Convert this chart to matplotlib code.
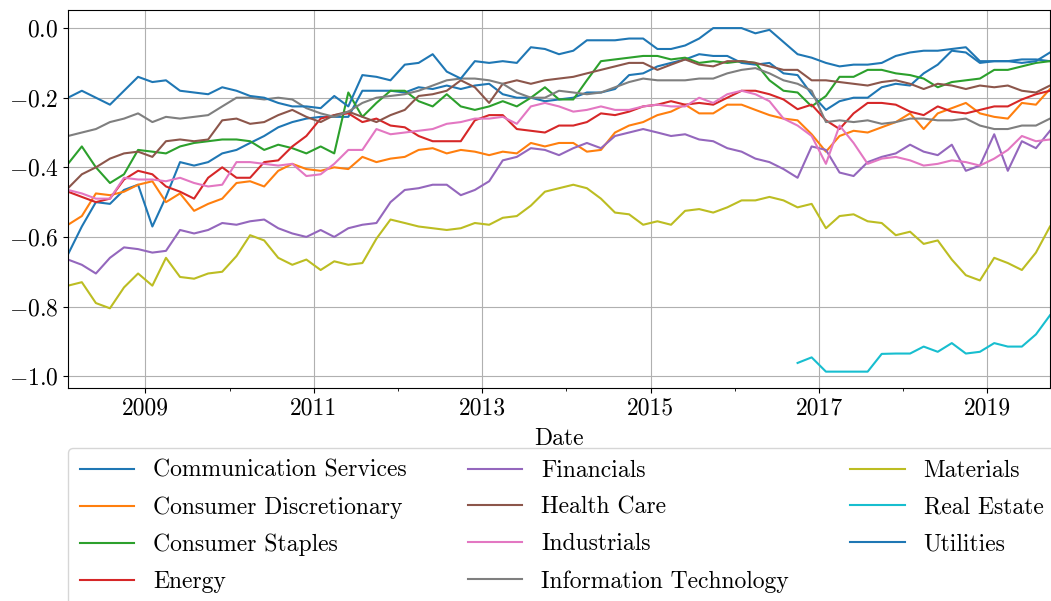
import numpy as np
import pandas as pd
import matplotlib
matplotlib.use("Agg")
import matplotlib.pyplot as plt
import matplotlib.dates as mdates

# drawdown per sector, sampled every second month (Jan 2008 .. Sep 2019)
dates = pd.date_range("2008-01-31", periods=71, freq="2ME")

communication_services = [
    -0.65, -0.57, -0.50, -0.505, -0.465, -0.45, -0.57, -0.485, -0.385, -0.395, -0.385, -0.36,
    -0.35, -0.33, -0.31, -0.285, -0.27, -0.26, -0.255, -0.255, -0.255, -0.18, -0.18, -0.18,
    -0.185, -0.17, -0.175, -0.165, -0.175, -0.165, -0.16, -0.19, -0.20, -0.20, -0.21, -0.205,
    -0.20, -0.185, -0.185, -0.175, -0.135, -0.13, -0.11, -0.10, -0.09, -0.075, -0.08, -0.08,
    -0.10, -0.105, -0.10, -0.13, -0.135, -0.19, -0.235, -0.21, -0.20, -0.20, -0.17,
    -0.16, -0.165, -0.13, -0.105, -0.065, -0.07, -0.10, -0.095, -0.095, -0.09, -0.09, -0.095]
consumer_discretionary = [
    -0.565, -0.54, -0.475, -0.48, -0.47, -0.45, -0.44, -0.50, -0.475, -0.525, -0.505, -0.49,
    -0.445, -0.44, -0.455, -0.41, -0.39, -0.405, -0.41, -0.40, -0.405, -0.37, -0.385, -0.375,
    -0.37, -0.35, -0.345, -0.36, -0.35, -0.355, -0.365, -0.355, -0.36, -0.33, -0.34, -0.33,
    -0.33, -0.355, -0.35, -0.30, -0.28, -0.27, -0.25, -0.24, -0.22, -0.245, -0.245, -0.22,
    -0.22, -0.235, -0.25, -0.26, -0.265, -0.305, -0.355, -0.31, -0.295, -0.30, -0.285,
    -0.27, -0.245, -0.29, -0.245, -0.23, -0.215, -0.245, -0.255, -0.26, -0.215, -0.22, -0.175]
consumer_staples = [
    -0.39, -0.34, -0.40, -0.445, -0.42, -0.35, -0.355, -0.36, -0.34, -0.33, -0.325, -0.32,
    -0.32, -0.325, -0.35, -0.335, -0.345, -0.36, -0.34, -0.36, -0.185, -0.255, -0.215, -0.18,
    -0.18, -0.21, -0.225, -0.19, -0.225, -0.235, -0.225, -0.21, -0.225, -0.20, -0.17, -0.205,
    -0.205, -0.15, -0.095, -0.09, -0.085, -0.08, -0.08, -0.09, -0.085, -0.10, -0.095, -0.10,
    -0.095, -0.10, -0.15, -0.18, -0.185, -0.225, -0.195, -0.14, -0.14, -0.12, -0.12,
    -0.13, -0.135, -0.145, -0.17, -0.155, -0.15, -0.145, -0.12, -0.12, -0.11, -0.10, -0.095]
energy = [
    -0.47, -0.485, -0.50, -0.49, -0.435, -0.41, -0.42, -0.455, -0.47, -0.49, -0.43, -0.40,
    -0.43, -0.43, -0.385, -0.38, -0.34, -0.31, -0.26, -0.25, -0.245, -0.27, -0.26, -0.28,
    -0.285, -0.31, -0.325, -0.325, -0.325, -0.265, -0.25, -0.25, -0.29, -0.295, -0.30, -0.28,
    -0.28, -0.27, -0.245, -0.25, -0.24, -0.225, -0.22, -0.21, -0.22, -0.215, -0.22, -0.20,
    -0.18, -0.18, -0.19, -0.205, -0.233, -0.22, -0.265, -0.29, -0.245, -0.215, -0.215,
    -0.22, -0.24, -0.25, -0.225, -0.24, -0.245, -0.235, -0.225, -0.225, -0.205, -0.19, -0.18]
financials = [
    -0.665, -0.68, -0.705, -0.66, -0.63, -0.635, -0.645, -0.64, -0.58, -0.59, -0.58, -0.56,
    -0.565, -0.555, -0.55, -0.575, -0.59, -0.60, -0.58, -0.60, -0.575, -0.565, -0.56, -0.50,
    -0.465, -0.46, -0.45, -0.45, -0.48, -0.465, -0.44, -0.38, -0.37, -0.345, -0.35, -0.365,
    -0.345, -0.33, -0.345, -0.31, -0.30, -0.29, -0.30, -0.31, -0.305, -0.32, -0.325, -0.345,
    -0.355, -0.375, -0.385, -0.405, -0.43, -0.34, -0.35, -0.415, -0.425, -0.385, -0.37,
    -0.36, -0.335, -0.355, -0.365, -0.335, -0.41, -0.395, -0.305, -0.41, -0.325, -0.345, -0.295]
health_care = [
    -0.46, -0.42, -0.40, -0.375, -0.36, -0.355, -0.37, -0.325, -0.32, -0.325, -0.32, -0.265,
    -0.26, -0.275, -0.27, -0.25, -0.235, -0.255, -0.27, -0.25, -0.24, -0.255, -0.27, -0.25,
    -0.235, -0.195, -0.19, -0.18, -0.15, -0.17, -0.215, -0.16, -0.15, -0.16, -0.15, -0.145,
    -0.14, -0.13, -0.12, -0.11, -0.10, -0.10, -0.12, -0.105, -0.09, -0.105, -0.11, -0.095,
    -0.095, -0.10, -0.11, -0.12, -0.12, -0.15, -0.15, -0.155, -0.16, -0.165, -0.155,
    -0.15, -0.16, -0.175, -0.16, -0.165, -0.175, -0.165, -0.17, -0.165, -0.18, -0.185, -0.165]
industrials = [
    -0.465, -0.475, -0.49, -0.49, -0.43, -0.435, -0.435, -0.44, -0.43, -0.445, -0.455, -0.45,
    -0.385, -0.385, -0.39, -0.395, -0.39, -0.425, -0.42, -0.39, -0.35, -0.35, -0.29, -0.305,
    -0.30, -0.295, -0.29, -0.275, -0.27, -0.26, -0.26, -0.255, -0.275, -0.225, -0.215, -0.225,
    -0.24, -0.235, -0.225, -0.235, -0.235, -0.225, -0.22, -0.225, -0.225, -0.20, -0.215, -0.19,
    -0.18, -0.19, -0.21, -0.26, -0.28, -0.31, -0.39, -0.28, -0.33, -0.39, -0.375,
    -0.37, -0.38, -0.395, -0.39, -0.38, -0.385, -0.395, -0.375, -0.35, -0.31, -0.325, -0.32]
information_technology = [
    -0.31, -0.30, -0.29, -0.27, -0.26, -0.245, -0.27, -0.255, -0.26, -0.255, -0.25, -0.225,
    -0.20, -0.20, -0.205, -0.20, -0.205, -0.23, -0.245, -0.255, -0.24, -0.215, -0.20, -0.195,
    -0.19, -0.18, -0.165, -0.15, -0.145, -0.145, -0.15, -0.16, -0.185, -0.20, -0.20, -0.18,
    -0.185, -0.19, -0.185, -0.17, -0.155, -0.145, -0.15, -0.15, -0.15, -0.145, -0.145, -0.13,
    -0.12, -0.115, -0.13, -0.15, -0.16, -0.18, -0.27, -0.265, -0.27, -0.265, -0.275,
    -0.27, -0.26, -0.26, -0.265, -0.265, -0.26, -0.28, -0.29, -0.29, -0.28, -0.28, -0.26]
materials = [
    -0.74, -0.73, -0.79, -0.805, -0.745, -0.705, -0.74, -0.66, -0.715, -0.72, -0.705, -0.70,
    -0.655, -0.595, -0.61, -0.66, -0.68, -0.665, -0.695, -0.67, -0.68, -0.675, -0.605, -0.55,
    -0.56, -0.57, -0.575, -0.58, -0.575, -0.56, -0.565, -0.545, -0.54, -0.51, -0.47, -0.46,
    -0.45, -0.46, -0.49, -0.53, -0.535, -0.565, -0.555, -0.565, -0.525, -0.52, -0.53, -0.515,
    -0.495, -0.495, -0.485, -0.495, -0.515, -0.505, -0.575, -0.54, -0.535, -0.555, -0.56,
    -0.595, -0.585, -0.62, -0.61, -0.665, -0.71, -0.725, -0.66, -0.675, -0.695, -0.645, -0.57]
# real estate only exists from late 2016
real_estate = [np.nan] * 52 + [
    -0.962, -0.946, -0.987, -0.987, -0.987, -0.987, -0.936,
    -0.935, -0.935, -0.915, -0.93, -0.905, -0.935, -0.93, -0.905, -0.915, -0.915, -0.88, -0.825]
utilities = [
    -0.20, -0.18, -0.20, -0.22, -0.18, -0.14, -0.155, -0.15, -0.18, -0.185, -0.19, -0.17,
    -0.18, -0.195, -0.20, -0.215, -0.225, -0.225, -0.23, -0.195, -0.225, -0.135, -0.14, -0.15,
    -0.105, -0.10, -0.075, -0.125, -0.145, -0.095, -0.10, -0.095, -0.10, -0.055, -0.06, -0.075,
    -0.065, -0.035, -0.035, -0.035, -0.03, -0.03, -0.06, -0.06, -0.05, -0.03, 0.0, 0.0,
    0.0, -0.015, -0.005, -0.04, -0.075, -0.085, -0.10, -0.11, -0.105, -0.105, -0.10,
    -0.08, -0.07, -0.065, -0.065, -0.06, -0.055, -0.095, -0.095, -0.095, -0.10, -0.095, -0.07]

sectors = ["Communication Services", "Consumer Discretionary", "Consumer Staples",
           "Energy", "Financials", "Health Care", "Industrials",
           "Information Technology", "Materials", "Real Estate", "Utilities"]

df = pd.DataFrame({
    "Communication Services": communication_services,
    "Consumer Discretionary": consumer_discretionary,
    "Consumer Staples": consumer_staples,
    "Energy": energy,
    "Financials": financials,
    "Health Care": health_care,
    "Industrials": industrials,
    "Information Technology": information_technology,
    "Materials": materials,
    "Real Estate": real_estate,
    "Utilities": utilities,
}, index=dates)

plt.rcParams["font.family"] = "serif"
plt.rcParams["font.serif"] = ["cmr10"]
plt.rcParams["mathtext.fontset"] = "cm"
plt.rcParams["axes.formatter.use_mathtext"] = True
plt.rcParams["font.size"] = 17

fig = plt.figure(figsize=(10.51, 6.01), dpi=100)
ax = fig.add_axes([68 / 1051, 1 - 388 / 601, (1050 - 68) / 1051, (388 - 10) / 601])

for name in sectors:
    ax.plot(df.index, df[name], label=name, linewidth=1.5)

ax.set_xlim(dates[0], dates[-1])
ax.set_ylim(-1.034, 0.052)
ax.set_yticks([0.0, -0.2, -0.4, -0.6, -0.8, -1.0])

ax.set_xticks(pd.to_datetime([f"{y}-01-01" for y in range(2009, 2020, 2)]))
ax.xaxis.set_major_formatter(mdates.DateFormatter("%Y"))
ax.xaxis.set_minor_locator(mdates.YearLocator(1))
ax.grid(True, which="major")
ax.set_xlabel("Date", labelpad=5.5)

fig.legend(loc="upper left", bbox_to_anchor=(68 / 1051, 1 - 448 / 601), ncol=3,
           borderaxespad=0, borderpad=0.5, handlelength=2.3, columnspacing=2.6,
           labelspacing=0.62)

fig.savefig("out.png", dpi=100)
